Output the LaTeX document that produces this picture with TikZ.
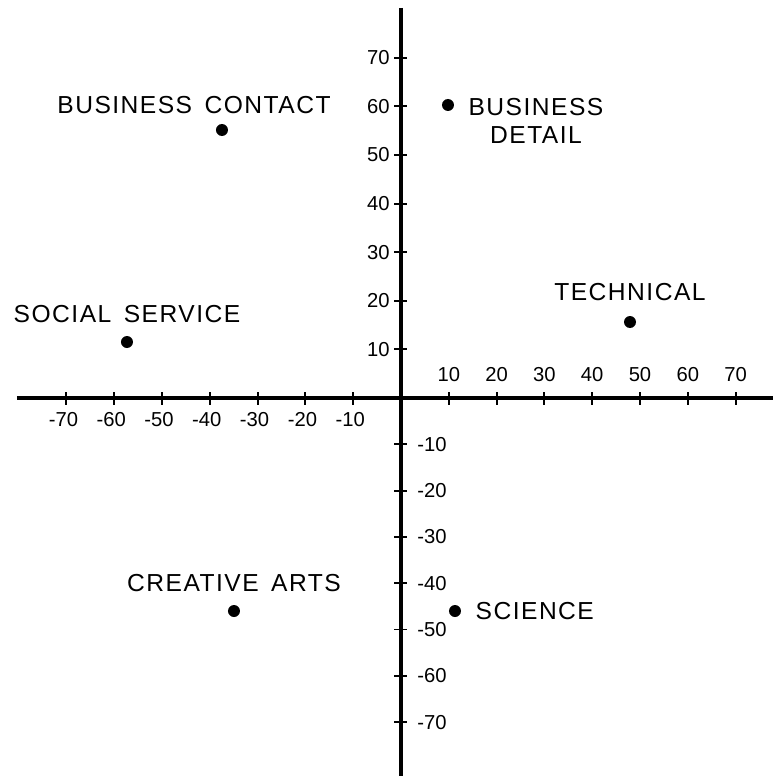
\documentclass[tikz,border=0pt]{standalone}
\usepackage{fontspec}
\setmainfont{Liberation Sans}
\newfontfamily\lblfont[LetterSpace=6,WordSpace=1.5]{Liberation Sans}
\usetikzlibrary{positioning}

\tikzset{
  axis/.style={line width=2.2pt},
  tick/.style={line width=1.1pt},
  num/.style={font=\fontsize{11.5}{13}\selectfont, inner sep=0pt},
  lbl/.style={font=\lblfont\fontsize{14}{16}\selectfont, inner sep=0pt, align=center},
  dot/.style={circle, fill=black, inner sep=0pt, minimum size=0.24cm}
}

\begin{document}
\begin{tikzpicture}
    \useasboundingbox (-8.02,-7.62) rectangle (7.44,7.96);
    % axes
    \coordinate (xl) at (-7.68,0);
    \coordinate (xr) at (7.44,0);
    \coordinate (yt) at (0,7.8);
    \coordinate (yb) at (0,-7.56);
    \draw[axis] (xl) -- (xr);
    \draw[axis] (yt) -- (yb);

    % ticks and numbers
    \foreach \i in {1,...,7} {
      \draw[tick] (\i*0.956,-0.13) -- (\i*0.956,0.13);
      \node[num] (xp\i) at (\i*0.956,0.46) {\i0};
      \draw[tick] (-\i*0.956,-0.13) -- (-\i*0.956,0.13);
      \node[num] (xn\i) at (-\i*0.956-0.06,-0.44) {-\i0};
      \draw[tick] (-0.13,\i*0.972) -- (0.13,\i*0.972);
      \node[num, anchor=east] (yp\i) at (-0.22,\i*0.972) {\i0};
      \draw[tick] (-0.13,-\i*0.926) -- (0.13,-\i*0.926);
      \node[num, anchor=west] (yn\i) at (0.32,-\i*0.926) {-\i0};
    }

    % points
    \node[dot] (bc) at (-3.58,5.36) {};
    \node[dot] (bd) at (0.94,5.86) {};
    \node[dot] (tech) at (4.58,1.52) {};
    \node[dot] (soc) at (-5.48,1.12) {};
    \node[dot] (art) at (-3.34,-4.26) {};
    \node[dot] (sci) at (1.08,-4.26) {};

    \node[lbl, above=0.2cm of bc, xshift=-0.56cm] (bclbl) {BUSINESS CONTACT};
    \node[lbl] (bdlbl) at (2.70,5.54) {BUSINESS\\DETAIL};
    \node[lbl, above=0.3cm of tech] (techlbl) {TECHNICAL};
    \node[lbl, above=0.26cm of soc] (soclbl) {SOCIAL SERVICE};
    \node[lbl, above=0.26cm of art] (artlbl) {CREATIVE ARTS};
    \node[lbl, right=0.28cm of sci] (scilbl) {SCIENCE};

\end{tikzpicture}
\end{document}
